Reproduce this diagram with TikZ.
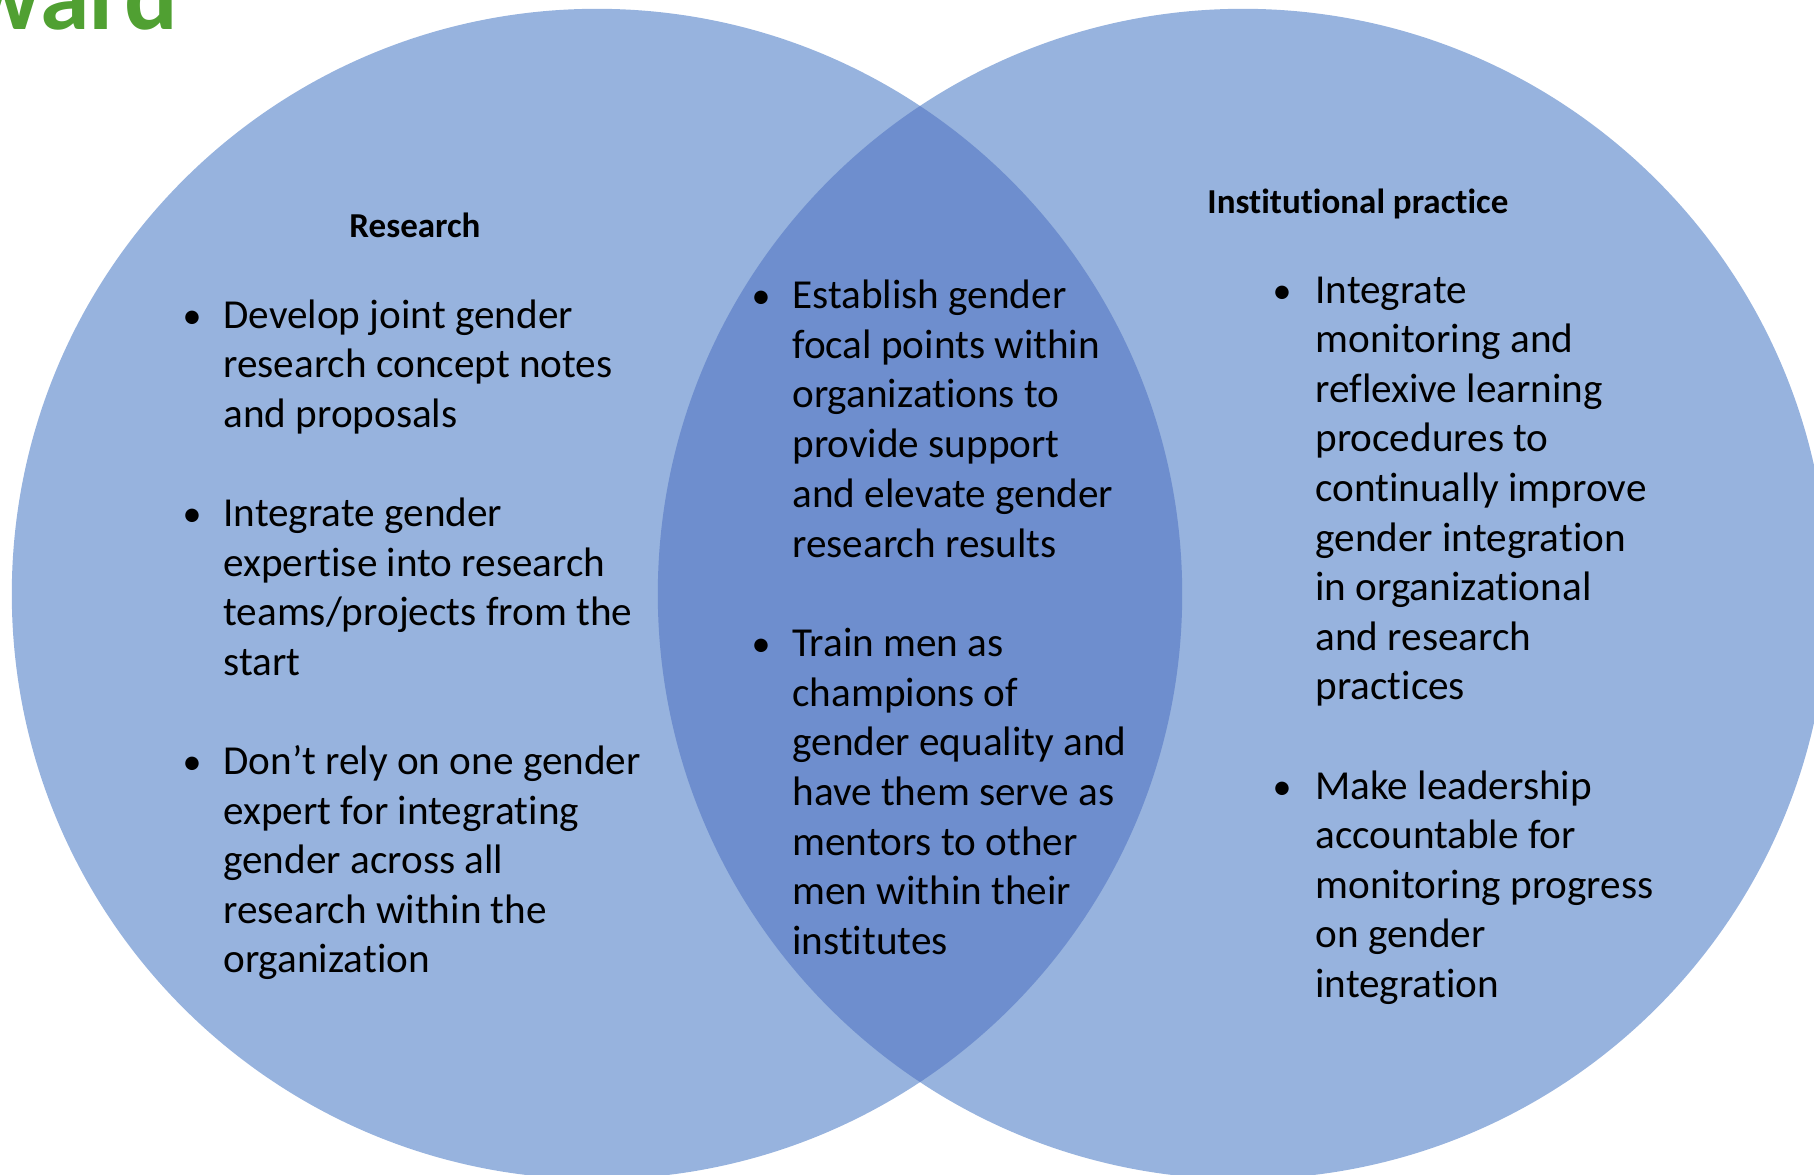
\documentclass[tikz,border=0pt]{standalone}
\usepackage{fontspec}
\setmainfont[Ligatures=NoCommon]{Carlito}
\definecolor{lightblue}{RGB}{151,179,222}
\definecolor{darkblue}{RGB}{110,142,206}
\definecolor{titlegreen}{RGB}{80,160,50}
\begin{document}
\begin{tikzpicture}[x=0.5pt,y=-0.5pt,
  body/.style={font=\fontsize{20.6}{24.8}\selectfont, anchor=base west, inner sep=0pt, text=black},
  bul/.style={font=\fontsize{19}{24.8}\selectfont, anchor=base, inner sep=0pt, text=black},
  head/.style={font=\bfseries\fontsize{17.5}{20}\selectfont, inner sep=0pt, text=black}]
\useasboundingbox (0,0) rectangle (1814,1174);
\clip (0,0) rectangle (1814,1174);
% circles
\fill[lightblue] (597,594) circle[radius=292.6pt];
\fill[lightblue] (1243,594) circle[radius=292.6pt];
\begin{scope}
  \clip (597,594) circle[radius=292.6pt];
  \fill[darkblue] (1243,594) circle[radius=292.6pt];
\end{scope}
% cut-off title
\node[anchor=base east, font=\bfseries\fontsize{50}{52}\selectfont, text=titlegreen, inner sep=0pt] (ttl) at (178,29) {ward};
% headings
\node[head, anchor=base] (hres) at (415,237) {Research};
\node[head, anchor=base west] (hinst) at (1207,213) {Institutional practice};
% left column
\node[bul] (bL1) at (192,328) {\textbullet};
\foreach \t [count=\i from 0] in {Develop joint gender, research concept notes, and proposals}
  {\node[body] (La\i) at (223,{328+\i*49.6}) {\t};}
\node[bul] (bL2) at (192,{328+4*49.6}) {\textbullet};
\foreach \t [count=\i from 4] in {Integrate gender, expertise into research, teams/projects from the, start}
  {\node[body] (Lb\i) at (223,{328+\i*49.6}) {\t};}
\node[bul] (bL3) at (192,{328+9*49.6}) {\textbullet};
\foreach \t [count=\i from 9] in {Don’t rely on one gender, expert for integrating, gender across all, research within the, organization}
  {\node[body] (Lc\i) at (223,{328+\i*49.6}) {\t};}
% middle column
\node[bul] (bM1) at (761,308.5) {\textbullet};
\foreach \t [count=\i from 0] in {Establish gender, focal points within, organizations to, provide support, and elevate gender, research results}
  {\node[body] (Ma\i) at (792,{308.5+\i*49.7}) {\t};}
\node[bul] (bM2) at (761,{308.5+7*49.7}) {\textbullet};
\foreach \t [count=\i from 7] in {Train men as, champions of, gender equality and, have them serve as, mentors to other, men within their, institutes}
  {\node[body] (Mb\i) at (792,{308.5+\i*49.7}) {\t};}
% right column
\node[bul] (bR1) at (1282,303) {\textbullet};
\foreach \t [count=\i from 0] in {Integrate, monitoring and, reflexive learning, procedures to, continually improve, gender integration, in organizational, and research, practices}
  {\node[body] (Ra\i) at (1315,{303+\i*49.6}) {\t};}
\node[bul] (bR2) at (1282,{303+10*49.6}) {\textbullet};
\foreach \t [count=\i from 10] in {Make leadership, accountable for, monitoring progress, on gender, integration}
  {\node[body] (Rb\i) at (1315,{303+\i*49.6}) {\t};}
\end{tikzpicture}
\end{document}
